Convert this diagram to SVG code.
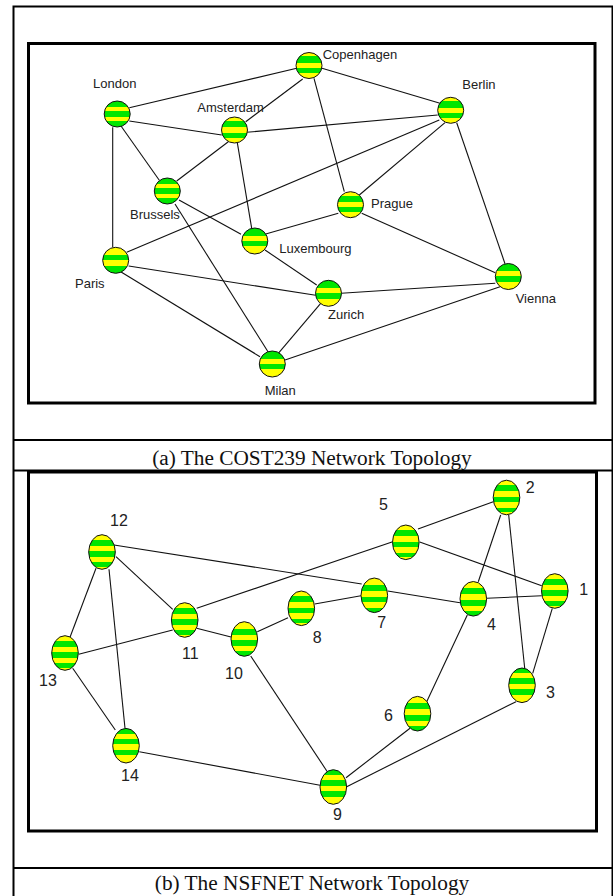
<svg xmlns="http://www.w3.org/2000/svg" width="613" height="896" viewBox="0 0 613 896">
<style>
.f{fill:none;stroke:#000;stroke-width:2}
.b{fill:none;stroke:#000;stroke-width:3}
.c line{stroke:#111;stroke-width:1.1}
.n{stroke:#111;stroke-width:1}
.la{font:13px "Liberation Sans",Arial,sans-serif;fill:#222}
.lb{font:16px "Liberation Sans",Arial,sans-serif;fill:#222}
.cap{font:21.300px "Liberation Serif","Times New Roman",serif;fill:#111;text-anchor:middle}
</style>
<defs>
<linearGradient id="t1" x1="0" y1="0" x2="0" y2="1"><stop offset=".22" stop-color="#00e600"/><stop offset=".22" stop-color="#ffff00"/><stop offset=".4" stop-color="#ffff00"/><stop offset=".4" stop-color="#00e600"/><stop offset=".6" stop-color="#00e600"/><stop offset=".6" stop-color="#ffff00"/><stop offset=".78" stop-color="#ffff00"/><stop offset=".78" stop-color="#00e600"/></linearGradient>
<linearGradient id="t2" x1="0" y1="0" x2="0" y2="1"><stop offset=".15" stop-color="#ffff00"/><stop offset=".15" stop-color="#00e600"/><stop offset=".4" stop-color="#00e600"/><stop offset=".4" stop-color="#ffff00"/><stop offset=".6" stop-color="#ffff00"/><stop offset=".6" stop-color="#00e600"/><stop offset=".8" stop-color="#00e600"/><stop offset=".8" stop-color="#ffff00"/></linearGradient>
<linearGradient id="t3" x1="0" y1="0" x2="0" y2="1"><stop offset=".29" stop-color="#00e600"/><stop offset=".29" stop-color="#ffff00"/><stop offset=".5" stop-color="#ffff00"/><stop offset=".5" stop-color="#00e600"/><stop offset=".71" stop-color="#00e600"/><stop offset=".71" stop-color="#ffff00"/></linearGradient>
<linearGradient id="t4" x1="0" y1="0" x2="0" y2="1"><stop offset=".29" stop-color="#ffff00"/><stop offset=".29" stop-color="#00e600"/><stop offset=".5" stop-color="#00e600"/><stop offset=".5" stop-color="#ffff00"/><stop offset=".71" stop-color="#ffff00"/><stop offset=".71" stop-color="#00e600"/></linearGradient>
<linearGradient id="e1" x1="0" y1="0" x2="0" y2="1"><stop offset=".15" stop-color="#ffff00"/><stop offset=".15" stop-color="#00e600"/><stop offset=".32" stop-color="#00e600"/><stop offset=".32" stop-color="#ffff00"/><stop offset=".48" stop-color="#ffff00"/><stop offset=".48" stop-color="#00e600"/><stop offset=".64" stop-color="#00e600"/><stop offset=".64" stop-color="#ffff00"/><stop offset=".8" stop-color="#ffff00"/><stop offset=".8" stop-color="#00e600"/><stop offset=".93" stop-color="#00e600"/><stop offset=".93" stop-color="#ffff00"/></linearGradient>
<linearGradient id="e2" x1="0" y1="0" x2="0" y2="1"><stop offset=".15" stop-color="#00e600"/><stop offset=".15" stop-color="#ffff00"/><stop offset=".3" stop-color="#ffff00"/><stop offset=".3" stop-color="#00e600"/><stop offset=".46" stop-color="#00e600"/><stop offset=".46" stop-color="#ffff00"/><stop offset=".62" stop-color="#ffff00"/><stop offset=".62" stop-color="#00e600"/><stop offset=".78" stop-color="#00e600"/><stop offset=".78" stop-color="#ffff00"/></linearGradient>
<linearGradient id="e3" x1="0" y1="0" x2="0" y2="1"><stop offset=".2" stop-color="#ffff00"/><stop offset=".2" stop-color="#00e600"/><stop offset=".37" stop-color="#00e600"/><stop offset=".37" stop-color="#ffff00"/><stop offset=".54" stop-color="#ffff00"/><stop offset=".54" stop-color="#00e600"/><stop offset=".7" stop-color="#00e600"/><stop offset=".7" stop-color="#ffff00"/><stop offset=".86" stop-color="#ffff00"/><stop offset=".86" stop-color="#00e600"/></linearGradient>
</defs>
<g id="frame">
<path class="f" d="M13.500 896V6.500H612.500V896M13.500 440H612.500M13.500 470.500H612.500M13.500 868H612.500"/>
<rect class="b" x="28.500" y="43.500" width="566.500" height="359.500"/>
<rect class="b" x="28.500" y="472" width="568" height="359"/>
</g>
<g id="connectors" class="c">
<line x1="296.700" y1="68.300" x2="129.300" y2="107.700"/><line x1="302.700" y1="79" x2="245.700" y2="121.700"/><line x1="322" y1="68.300" x2="440" y2="103.300"/><line x1="314" y1="78.300" x2="344.300" y2="191.700"/>
<line x1="129.300" y1="121" x2="221.700" y2="135"/><line x1="121" y1="126" x2="159.300" y2="180.300"/><line x1="112.700" y1="127.300" x2="112.700" y2="247.300"/>
<line x1="246.700" y1="132.300" x2="437.700" y2="115"/><line x1="228.300" y1="141.700" x2="176.700" y2="181"/><line x1="237.300" y1="142.700" x2="251.700" y2="228.300"/>
<line x1="445" y1="122.700" x2="359.300" y2="195"/><line x1="439.300" y1="120" x2="126.700" y2="252.300"/><line x1="456.700" y1="122.700" x2="505" y2="263.700"/>
<line x1="179" y1="200" x2="241" y2="234.300"/><line x1="175" y1="204" x2="268.300" y2="352.300"/>
<line x1="338.300" y1="213.300" x2="265.700" y2="234"/><line x1="361.700" y1="213.300" x2="495.300" y2="272.700"/>
<line x1="265" y1="250" x2="316.700" y2="285"/><line x1="128.700" y1="266" x2="315.700" y2="295.300"/><line x1="120.700" y1="271.700" x2="260" y2="356.700"/>
<line x1="341.300" y1="293.300" x2="495.300" y2="283.300"/><line x1="320.700" y1="303.300" x2="278.300" y2="353.300"/><line x1="285" y1="360" x2="500" y2="286.700"/>
<line x1="418" y1="529" x2="493.300" y2="501.700"/><line x1="419.700" y1="542" x2="541.700" y2="585.700"/><line x1="478.300" y1="581.700" x2="500.700" y2="515"/><line x1="508.700" y1="515" x2="524.700" y2="668.300"/>
<line x1="486.700" y1="598.300" x2="541.700" y2="595.700"/><line x1="552.300" y1="608.300" x2="532.700" y2="673.300"/><line x1="460" y1="602.700" x2="387.700" y2="591"/><line x1="467.300" y1="615" x2="426.700" y2="701.700"/>
<line x1="516" y1="701.700" x2="346.700" y2="786.700"/><line x1="410" y1="728.300" x2="346" y2="777.700"/><line x1="361" y1="595.700" x2="314.700" y2="604"/><line x1="361.700" y1="584" x2="114" y2="545"/>
<line x1="288" y1="617.700" x2="257.300" y2="631.700"/><line x1="231" y1="637" x2="196.700" y2="628.300"/><line x1="250.700" y1="656" x2="327.300" y2="771.700"/><line x1="196.700" y1="608.300" x2="392.700" y2="541.700"/>
<line x1="172.700" y1="609.300" x2="116" y2="556.700"/><line x1="172.700" y1="630" x2="78.700" y2="654.300"/><line x1="96" y1="568.300" x2="70" y2="637.300"/><line x1="109" y1="569.300" x2="125" y2="728.300"/><line x1="72.700" y1="668.300" x2="115.300" y2="730"/><line x1="139.300" y1="751.700" x2="320" y2="785.300"/>
</g>
<g id="copenhagen"><circle class="n" cx="309" cy="65.500" r="13" fill="url(#t2)"/><text class="la" x="322.700" y="59">Copenhagen</text></g>
<g id="berlin"><circle class="n" cx="450.700" cy="110.300" r="13" fill="url(#t2)"/><text class="la" x="462.300" y="89">Berlin</text></g>
<g id="london"><circle class="n" cx="117.200" cy="114" r="13" fill="url(#t1)"/><text class="la" x="93" y="88">London</text></g>
<g id="amsterdam"><circle class="n" cx="234.500" cy="130" r="13" fill="url(#t2)"/><text class="la" x="197.300" y="112">Amsterdam</text></g>
<g id="brussels"><circle class="n" cx="167.300" cy="191" r="13" fill="url(#t1)"/><text class="la" x="130" y="219">Brussels</text></g>
<g id="prague"><circle class="n" cx="350.500" cy="204.700" r="13" fill="url(#t2)"/><text class="la" x="371" y="208">Prague</text></g>
<g id="luxembourg"><circle class="n" cx="254.800" cy="241" r="13" fill="url(#t3)"/><text class="la" x="279.300" y="253">Luxembourg</text></g>
<g id="paris"><circle class="n" cx="115.700" cy="260.300" r="13" fill="url(#t4)"/><text class="la" x="75" y="288">Paris</text></g>
<g id="zurich"><circle class="n" cx="328.500" cy="293.300" r="13" fill="url(#t3)"/><text class="la" x="328" y="319">Zurich</text></g>
<g id="vienna"><circle class="n" cx="508.300" cy="276.500" r="13" fill="url(#t3)"/><text class="la" x="515.700" y="302.700">Vienna</text></g>
<g id="milan"><circle class="n" cx="272.300" cy="364" r="13" fill="url(#t3)"/><text class="la" x="264.700" y="395">Milan</text></g>
<g id="n1"><ellipse class="n" cx="554.800" cy="591" rx="13.300" ry="17.300" fill="url(#e1)"/><text class="lb" x="579.300" y="595">1</text></g>
<g id="n2"><ellipse class="n" cx="506.500" cy="497.500" rx="13.300" ry="17.300" fill="url(#e1)"/><text class="lb" x="525.700" y="493">2</text></g>
<g id="n3"><ellipse class="n" cx="522" cy="685.300" rx="13.300" ry="17.300" fill="url(#e2)"/><text class="lb" x="546" y="698">3</text></g>
<g id="n4"><ellipse class="n" cx="473.300" cy="598.800" rx="13.300" ry="17.300" fill="url(#e3)"/><text class="lb" x="487" y="630">4</text></g>
<g id="n5"><ellipse class="n" cx="405.800" cy="542.300" rx="13.300" ry="17.300" fill="url(#e1)"/><text class="lb" x="379" y="510">5</text></g>
<g id="n6"><ellipse class="n" cx="417.500" cy="713.700" rx="13.300" ry="17.300" fill="url(#e3)"/><text class="lb" x="384" y="721">6</text></g>
<g id="n7"><ellipse class="n" cx="374.300" cy="595.300" rx="13.300" ry="17.300" fill="url(#e3)"/><text class="lb" x="377.300" y="628">7</text></g>
<g id="n8"><ellipse class="n" cx="301.300" cy="608.300" rx="13.300" ry="17.300" fill="url(#e1)"/><text class="lb" x="312.700" y="643">8</text></g>
<g id="n9"><ellipse class="n" cx="333.300" cy="787" rx="13.300" ry="17.300" fill="url(#e2)"/><text class="lb" x="333" y="820">9</text></g>
<g id="n10"><ellipse class="n" cx="244.300" cy="639" rx="13.300" ry="17.300" fill="url(#e3)"/><text class="lb" x="225" y="679">10</text></g>
<g id="n11"><ellipse class="n" cx="184.700" cy="620" rx="13.300" ry="17.300" fill="url(#e1)"/><text class="lb" x="182" y="659">11</text></g>
<g id="n12"><ellipse class="n" cx="102" cy="552" rx="13.300" ry="17.300" fill="url(#e1)"/><text class="lb" x="110" y="526">12</text></g>
<g id="n13"><ellipse class="n" cx="65" cy="653" rx="13.300" ry="17.300" fill="url(#e1)"/><text class="lb" x="39" y="686">13</text></g>
<g id="n14"><ellipse class="n" cx="126" cy="745.700" rx="13.300" ry="17.300" fill="url(#e2)"/><text class="lb" x="121" y="781">14</text></g>
<g id="captions"><text class="cap" x="312" y="465">(a) The COST239 Network Topology</text><text class="cap" x="312" y="890">(b) The NSFNET Network Topology</text></g>
</svg>
